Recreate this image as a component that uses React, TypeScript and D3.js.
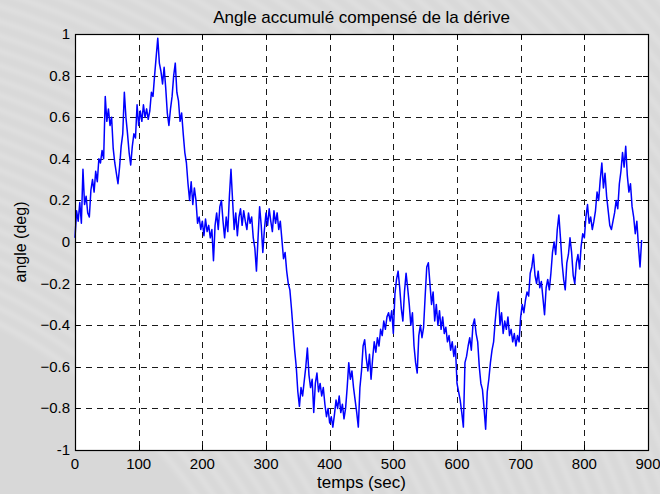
import React from "react";
import * as d3 from "d3";

// Drift-compensated accumulated angle, sampled every 2.5 s (deg)
const timeStep = 2.5;
const angleDeg: number[] = [
  // 0 – 22.5 s
  0.02, 0.15, 0.10, 0.19, 0.09, 0.35, 0.18, 0.22, 0.14, 0.12,
  // 25 – 47.5 s
  0.25, 0.30, 0.24, 0.34, 0.29, 0.40, 0.38, 0.44, 0.40, 0.70,
  // 50 – 72.5 s
  0.58, 0.64, 0.56, 0.60, 0.45, 0.38, 0.33, 0.28, 0.36, 0.46,
  // 75 – 97.5 s
  0.52, 0.72, 0.60, 0.52, 0.43, 0.37, 0.46, 0.52, 0.50, 0.66,
  // 100 – 122.5 s
  0.56, 0.63, 0.58, 0.66, 0.60, 0.64, 0.59, 0.63, 0.72, 0.70,
  // 125 – 147.5 s
  0.80, 0.89, 0.98, 0.86, 0.82, 0.76, 0.84, 0.74, 0.62, 0.56,
  // 150 – 172.5 s
  0.64, 0.70, 0.80, 0.86, 0.72, 0.68, 0.58, 0.62, 0.52, 0.43,
  // 175 – 197.5 s
  0.38, 0.28, 0.20, 0.29, 0.18, 0.26, 0.20, 0.09, 0.12, 0.06,
  // 200 – 222.5 s
  0.10, 0.03, 0.11, 0.05, 0.08, 0.02, 0.06, -0.09, 0.08, 0.14,
  // 225 – 247.5 s
  0.06, 0.17, 0.20, 0.10, 0.02, 0.12, 0.05, 0.22, 0.35, 0.20,
  // 250 – 272.5 s
  0.06, 0.14, 0.03, 0.12, 0.16, 0.08, 0.15, 0.10, 0.06, 0.14,
  // 275 – 297.5 s
  0.09, 0.12, 0.02, -0.03, -0.14, 0.02, 0.17, 0.08, -0.05, 0.06,
  // 300 – 322.5 s
  0.14, 0.08, 0.16, 0.10, 0.05, 0.15, 0.09, 0.14, 0.06, 0.10,
  // 325 – 347.5 s
  0.01, -0.08, -0.05, -0.14, -0.20, -0.23, -0.32, -0.42, -0.52, -0.60,
  // 350 – 372.5 s
  -0.72, -0.79, -0.70, -0.74, -0.67, -0.60, -0.51, -0.64, -0.70, -0.66,
  // 375 – 397.5 s
  -0.82, -0.68, -0.63, -0.72, -0.68, -0.74, -0.70, -0.78, -0.84, -0.80,
  // 400 – 422.5 s
  -0.87, -0.84, -0.89, -0.83, -0.76, -0.80, -0.74, -0.82, -0.78, -0.85,
  // 425 – 447.5 s
  -0.80, -0.70, -0.58, -0.66, -0.62, -0.70, -0.76, -0.82, -0.89, -0.70,
  // 450 – 472.5 s
  -0.62, -0.50, -0.47, -0.56, -0.62, -0.54, -0.66, -0.56, -0.48, -0.53,
  // 475 – 497.5 s
  -0.46, -0.50, -0.42, -0.45, -0.38, -0.42, -0.36, -0.34, -0.38, -0.33,
  // 500 – 522.5 s
  -0.44, -0.25, -0.18, -0.14, -0.22, -0.32, -0.38, -0.24, -0.15, -0.22,
  // 525 – 547.5 s
  -0.30, -0.40, -0.34, -0.50, -0.58, -0.63, -0.45, -0.40, -0.46, -0.41,
  // 550 – 572.5 s
  -0.26, -0.12, -0.10, -0.20, -0.30, -0.24, -0.38, -0.30, -0.40, -0.33,
  // 575 – 597.5 s
  -0.42, -0.36, -0.44, -0.41, -0.48, -0.45, -0.52, -0.48, -0.55, -0.50,
  // 600 – 622.5 s
  -0.68, -0.72, -0.76, -0.82, -0.89, -0.58, -0.55, -0.50, -0.46, -0.52,
  // 625 – 647.5 s
  -0.40, -0.37, -0.44, -0.48, -0.60, -0.68, -0.71, -0.80, -0.90, -0.72,
  // 650 – 672.5 s
  -0.66, -0.58, -0.52, -0.48, -0.38, -0.30, -0.24, -0.40, -0.34, -0.44,
  // 675 – 697.5 s
  -0.38, -0.42, -0.36, -0.45, -0.42, -0.48, -0.44, -0.50, -0.45, -0.48,
  // 700 – 722.5 s
  -0.36, -0.30, -0.34, -0.28, -0.24, -0.26, -0.15, -0.12, -0.06, -0.16,
  // 725 – 747.5 s
  -0.20, -0.14, -0.22, -0.19, -0.27, -0.35, -0.22, -0.18, -0.23, -0.15,
  // 750 – 772.5 s
  -0.05, 0.00, -0.06, 0.06, 0.13, 0.02, -0.10, -0.18, -0.23, -0.10,
  // 775 – 797.5 s
  -0.06, 0.02, -0.05, -0.16, -0.20, -0.10, -0.06, -0.13, -0.02, 0.04,
  // 800 – 822.5 s
  0.02, 0.12, 0.18, 0.09, 0.12, 0.06, 0.10, 0.15, 0.24, 0.20,
  // 825 – 847.5 s
  0.30, 0.38, 0.26, 0.33, 0.22, 0.15, 0.08, 0.06, 0.10, 0.14,
  // 850 – 872.5 s
  0.20, 0.16, 0.28, 0.34, 0.43, 0.36, 0.46, 0.32, 0.24, 0.28,
  // 875 – 890 s
  0.17, 0.12, 0.04, 0.10, -0.02, -0.12, 0.01,
];

const xTicks = [0, 100, 200, 300, 400, 500, 600, 700, 800, 900];
const yTicks = [-1, -0.8, -0.6, -0.4, -0.2, 0, 0.2, 0.4, 0.6, 0.8, 1];

const title = "Angle accumulé compensé de la dérive";
const xLabel = "temps (sec)";
const yLabel = "angle (deg)";

const W = 660;
const H = 494;
const plot = { left: 75, right: 648, top: 34, bottom: 450 };
const FONT = "Arial, 'Liberation Sans', Helvetica, sans-serif";

// Faint curved streaks of the slide backdrop
const streakRadii = d3.range(560, 1240, 14);

export default function App() {
  const x = d3.scaleLinear().domain([0, 900]).range([plot.left, plot.right]);
  const y = d3.scaleLinear().domain([-1, 1]).range([plot.bottom, plot.top]);

  const points: [number, number][] = angleDeg.map((v, i) => [i * timeStep, v]);
  const path = d3
    .line<[number, number]>()
    .x((d) => x(d[0]))
    .y((d) => y(d[1]))(points) as string;

  const tickLen = 5;

  return (
    <svg
      width={W}
      height={H}
      style={{ position: "absolute", left: 0, top: 0, display: "block" }}
      fontFamily={FONT}
    >
      <defs>
        <filter id="soft" x="-10%" y="-10%" width="120%" height="120%">
          <feGaussianBlur stdDeviation="2.5" />
        </filter>
      </defs>
      <rect x={0} y={0} width={W} height={H} fill="#d8d8d8" />
      <g filter="url(#soft)" fill="none" stroke="#ffffff" strokeOpacity={0.22} strokeWidth={5}>
        {streakRadii.map((r) => (
          <circle key={"s" + r} cx={-260} cy={820} r={r} />
        ))}
      </g>

      <rect
        x={plot.left}
        y={plot.top}
        width={plot.right - plot.left}
        height={plot.bottom - plot.top}
        fill="#ffffff"
      />

      {/* dashed grid */}
      <g stroke="#1a1a1a" strokeWidth={1} strokeDasharray="6,5" shapeRendering="crispEdges">
        {xTicks.slice(1, -1).map((t) => (
          <line key={"gx" + t} x1={Math.round(x(t)) + 0.5} x2={Math.round(x(t)) + 0.5} y1={plot.top} y2={plot.bottom} />
        ))}
        {yTicks.slice(1, -1).map((t) => (
          <line key={"gy" + t} x1={plot.left} x2={plot.right} y1={Math.round(y(t)) + 0.5} y2={Math.round(y(t)) + 0.5} />
        ))}
      </g>

      {/* signal */}
      <path d={path} fill="none" stroke="#0000ff" strokeWidth={1.5} strokeLinejoin="round" />

      {/* ticks */}
      <g stroke="#000" strokeWidth={1} shapeRendering="crispEdges">
        {xTicks.map((t) => (
          <g key={"tx" + t}>
            <line x1={Math.round(x(t)) + 0.5} x2={Math.round(x(t)) + 0.5} y1={plot.bottom} y2={plot.bottom - tickLen} />
            <line x1={Math.round(x(t)) + 0.5} x2={Math.round(x(t)) + 0.5} y1={plot.top} y2={plot.top + tickLen} />
          </g>
        ))}
        {yTicks.map((t) => (
          <g key={"ty" + t}>
            <line x1={plot.left} x2={plot.left + tickLen} y1={Math.round(y(t)) + 0.5} y2={Math.round(y(t)) + 0.5} />
            <line x1={plot.right} x2={plot.right - tickLen} y1={Math.round(y(t)) + 0.5} y2={Math.round(y(t)) + 0.5} />
          </g>
        ))}
      </g>

      {/* frame */}
      <rect
        x={plot.left + 0.5}
        y={plot.top + 0.5}
        width={plot.right - plot.left}
        height={plot.bottom - plot.top}
        fill="none"
        stroke="#000"
        strokeWidth={1.2}
      />

      {/* tick labels */}
      <g fontSize={15} fill="#000">
        {xTicks.map((t) => (
          <text key={"lx" + t} x={x(t)} y={plot.bottom + 19} textAnchor="middle">
            {d3.format("d")(t)}
          </text>
        ))}
        {yTicks.map((t) => (
          <text key={"ly" + t} x={plot.left - 5} y={y(t) + 5} textAnchor="end">
            {t === 0 || Math.abs(t) === 1 ? String(t) : d3.format(".1f")(t)}
          </text>
        ))}
      </g>

      <text x={(plot.left + plot.right) / 2} y={23} textAnchor="middle" fontSize={17} fill="#000">
        {title}
      </text>
      <text x={(plot.left + plot.right) / 2} y={488} textAnchor="middle" fontSize={17} fill="#000">
        {xLabel}
      </text>
      <text
        transform={`translate(26, ${(plot.top + plot.bottom) / 2}) rotate(-90)`}
        textAnchor="middle"
        fontSize={16}
        fill="#000"
      >
        {yLabel}
      </text>
    </svg>
  );
}
